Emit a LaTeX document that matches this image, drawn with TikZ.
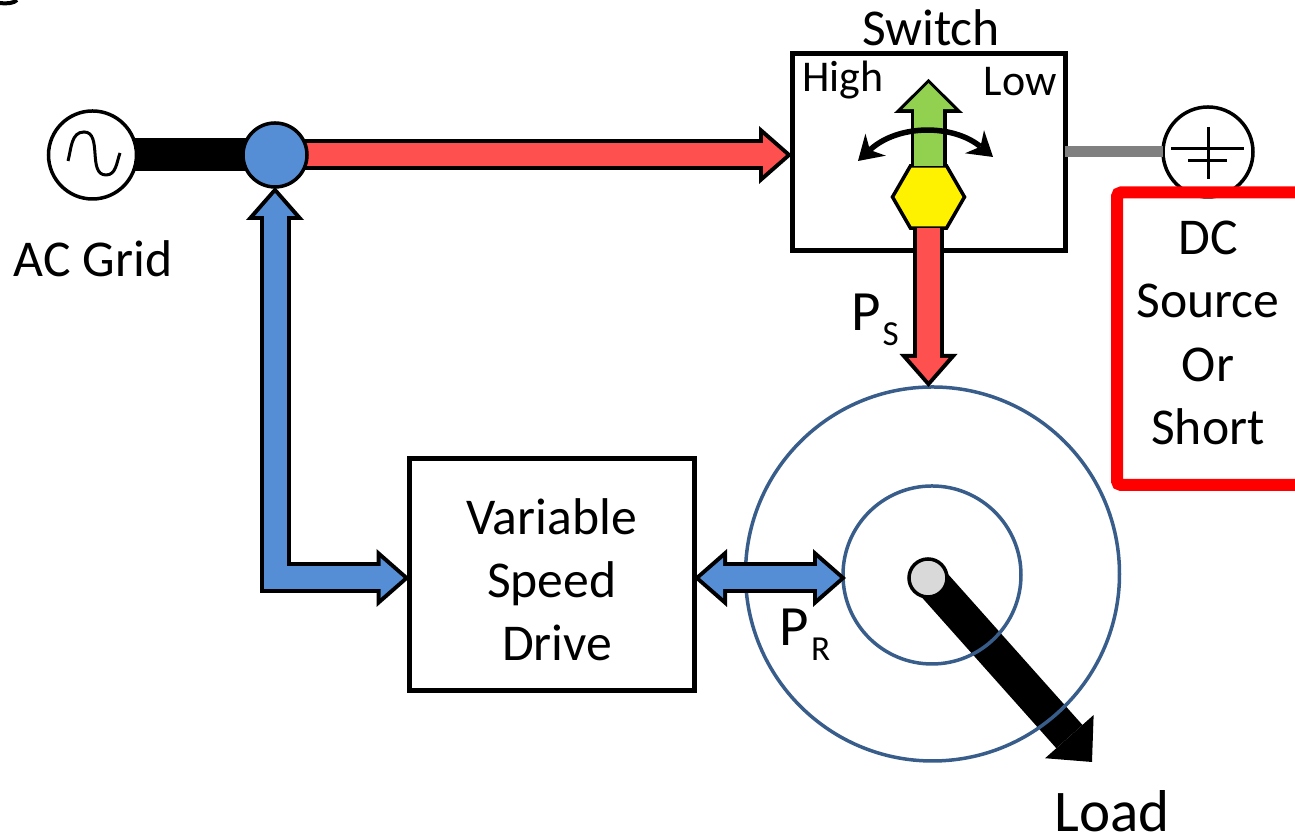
\documentclass[tikz,border=0pt]{standalone}
\usepackage{fontspec}
\setmainfont{Carlito}
\usetikzlibrary{arrows.meta, shapes.geometric, backgrounds}
\definecolor{gridblue}{HTML}{558ED5}
\definecolor{flowred}{HTML}{FF5050}
\definecolor{flowgreen}{HTML}{92D050}
\definecolor{ringblue}{HTML}{385D8A}
\newcommand{\powerlabel}[1]{{\fontsize{16.2}{19}\selectfont P}\hspace{0.2mm}\raisebox{-1.5mm}{\fontsize{10}{12}\selectfont #1}}
\begin{document}
\begin{tikzpicture}[
    every node/.style={inner sep=0pt, outer sep=0pt, font=\fontsize{14.7}{18}\selectfont},
    headout/.tip={Triangle[length=3.3mm, width=5.8mm, line width=0pt]},
    headin/.tip={Triangle[length=2.3mm, width=4mm, line width=0pt]},
    greenout/.tip={Triangle[length=3.4mm, width=6.9mm, line width=0pt]},
    greenin/.tip={Triangle[length=2.6mm, width=5.2mm, line width=0pt]},
    swing/.tip={Stealth[length=2.4mm, width=3mm, line width=0pt]},
    source/.style={circle, draw, line width=0.35mm, fill=white, minimum size=#1},
    block/.style={rectangle, draw, line width=0.5mm},
    ring/.style={circle, draw=ringblue, line width=0.35mm, minimum size=#1},
    small/.style={font=\fontsize{12.5}{15}\selectfont},
    big/.style={font=\fontsize{16.8}{19}\selectfont},
    flow/.style={preaction={draw=black, line width=3.1mm, shorten >=0pt, -{headout}},
                 draw=#1, line width=2.3mm, shorten >=0.6mm, -{headin}},
    bothflow/.style={preaction={draw=black, line width=3.1mm, shorten >=0pt, shorten <=0pt, {headout}-{headout}},
                 draw=gridblue, line width=2.3mm, shorten >=0.6mm, shorten <=0.6mm, {headin}-{headin}},
]
  \useasboundingbox (0,0) rectangle (12.95,8.38);

  \node [source=8.8mm]                      (acgrid)   at (0.925,6.83) {};
  \node [circle, draw, line width=0.35mm, fill=gridblue, minimum size=6.4mm]
                                            (junction) at (2.75, 6.83) {};
  \node []                                  (aclabel)  at (0.93, 5.79) {AC Grid};
  \node [block, minimum width=27.3mm, minimum height=19.7mm]
                                            (switch)   at (9.285,6.855) {};
  \node []                                  (swlabel)  at (9.31, 8.10) {Switch};
  \node [small]                             (high)     at (8.43, 7.58) {High};
  \node [small]                             (low)      at (10.20,7.56) {Low};
  \node [regular polygon, regular polygon sides=6, draw, line width=0.35mm, fill=yellow, minimum size=7.2mm]
                                            (hexagon)  at (9.285,6.41) {};
  \node [source=9mm]                        (dcsource) at (12.08,6.86) {};
  \node [align=center]                      (dclabel)  at (12.08,5.05) {DC\\Source\\Or\\Short};
  \node [block, minimum width=28.45mm, minimum height=23.2mm, align=center, text width=28mm]
                                            (drive)    at (5.5175,2.635) {\rule{0pt}{4.6mm}Variable\\Speed\\\hspace{1.1mm}Drive};
  \node [ring=37.4mm]                       (outer)    at (9.325,2.64) {};
  \node [ring=17.8mm]                       (inner)    at (9.32, 2.63) {};
  \node [circle, draw, line width=0.35mm, fill=black!15, minimum size=3.8mm]
                                            (hub)      at (9.28, 2.60) {};
  \node [big]                               (load)     at (11.12,0.27) {Load};
  \node []                                  (ps)       at (8.75, 5.18) {\powerlabel{S}};
  \node []                                  (pr)       at (8.05, 2.03) {\powerlabel{R}};

  \coordinate (greentip) at (9.285,7.59);
  \coordinate (loadtip)  at (10.92,0.76);
  \coordinate (swingl)   at (8.58, 6.77);
  \coordinate (swingr)   at (9.93, 6.81);

  \begin{scope}[on background layer]
    \draw [line width=3.3mm] (acgrid.center) -- (junction.center);
    \draw [flow=flowred] (junction.center) -- (junction.center -| switch.west);
    \draw [line width=3.5mm, -{Triangle[length=3.4mm, width=6.5mm, line width=0pt]}] (hub.center) -- (loadtip);
  \end{scope}

  \draw [flow=flowred]   (hexagon.south) -- (hexagon.south |- outer.north);
  \draw [preaction={draw=black, line width=3.6mm, shorten >=0pt, -{greenout}}, draw=flowgreen, line width=2.9mm,
         shorten >=0.42mm, -{greenin}] (hexagon.north) -- (greentip);
  \draw [line width=0.55mm, {swing}-{swing}]
         (swingl) .. controls (8.98,7.14) and (9.53,7.14) .. (swingr);
  \draw [bothflow]       (junction.south) |- ([yshift=-0.35mm]drive.west);
  \draw [bothflow]       ([yshift=-0.35mm]drive.east) -- ([yshift=-0.35mm, xshift=0.3mm]drive.east -| inner.west);
  \draw [line width=1.1mm, draw=black!50] (dcsource.west) -- (dcsource.west -| switch.east);

  \draw [line width=0.3mm] (0.68,6.77) to [out=75, in=180] (0.84,7.06) to [out=0, in=180] (1.06,6.63) to [out=0, in=250] (1.20,6.85);
  \draw [line width=0.3mm] (12.08,7.11) -- (12.08,6.59)
                           (11.71,6.89) -- (12.44,6.89)
                           (11.88,6.77) -- (12.27,6.77);
  \draw [draw=red, line width=1.2mm, rounded corners=0.4mm] (12.95,6.455) -- (11.17,6.455) -- (11.17,3.53) -- (12.95,3.53);
  \draw [line width=0.4mm] (0,8.35) .. controls (0.08,8.34) and (0.14,8.35) .. (0.17,8.38);
\end{tikzpicture}
\end{document}
